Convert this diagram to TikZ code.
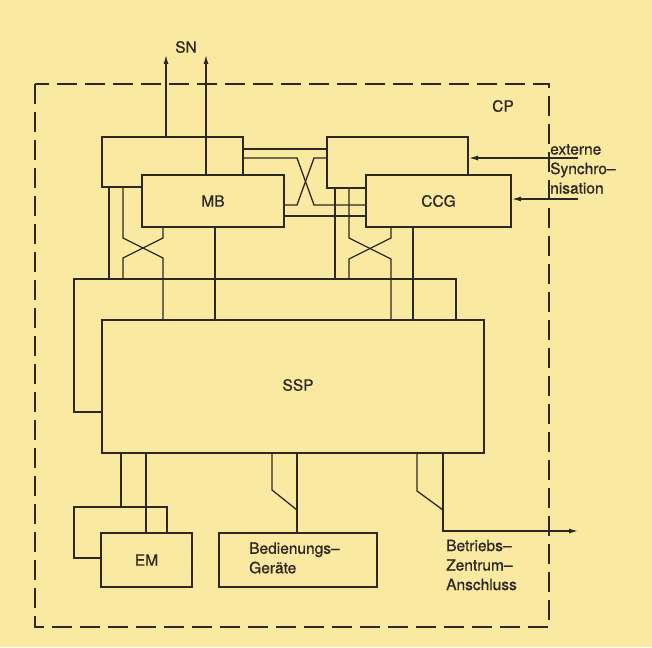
\documentclass[tikz,border=0pt]{standalone}
\usepackage{fontspec}
\setmainfont{TeX Gyre Heros}[UprightFeatures={FakeBold=0.8}]
\usetikzlibrary{arrows.meta}
\definecolor{bg}{RGB}{250,233,160}
\definecolor{ink}{RGB}{45,40,34}
\begin{document}
\begin{tikzpicture}[x=1pt,y=-1pt,
  blk/.style={draw=ink,line width=2pt,fill=bg,rectangle,inner sep=0pt,text=ink,
    font=\fontsize{15.5}{19}\selectfont},
  wire/.style={draw=ink,line width=1.3pt},
  arr/.style={wire,-{Latex[length=9pt,width=5pt]}},
  lbl/.style={text=ink,inner sep=0pt,font=\fontsize{15.5}{19.5}\selectfont,align=left}]
\fill[bg] (0,0) rectangle (652,647);
\useasboundingbox (0,0) rectangle (652,647);
% dashed CP border
\draw[ink,line width=1.4pt,dash pattern=on 20pt off 8pt] (35,84) rectangle (549,627);
\node[lbl] (cp) at (503,106) {CP};
% boxes (back first, then front)
\node[blk,minimum width=141pt,minimum height=50pt] (bl) at (172.5,162) {};
\node[blk,minimum width=142pt,minimum height=52pt] (mb) at (213,201) {MB};
\node[blk,minimum width=141pt,minimum height=51pt] (br) at (397.5,162.5) {};
\node[blk,minimum width=145pt,minimum height=52pt] (ccg) at (438.5,201) {CCG};
\node[blk,minimum width=382pt,minimum height=133pt] (sspb) at (265,345.5) {};
\node[blk,minimum width=382pt,minimum height=133pt] (ssp) at (293,386.5) {};
\node[lbl] at (298,385) {SSP};
\node[blk,minimum width=93pt,minimum height=51pt] (emb) at (120.5,532.5) {};
\node[blk,minimum width=91pt,minimum height=54pt] (em) at (146.5,560) {EM};
\node[blk,minimum width=158pt,minimum height=54pt] (bed) at (298,560) {};
\node[lbl,anchor=west] (bedt) at (249,558) {Bedienungs–\\Geräte};
% SN arrows
\coordinate (sn1) at (166,55);
\coordinate (sn2) at (206,55);
\draw[arr] (bl.north -| sn1) -- (sn1);
\draw[arr] (mb.north -| sn2) -- (sn2);
\node[lbl] (sn) at (186,47) {SN};
% external synchronisation
\coordinate (es1) at (578,158);
\coordinate (es2) at (578,199);
\draw[arr] (es1) -- (br.east |- es1);
\draw[arr] (es2) -- (ccg.east |- es2);
\node[lbl,anchor=west] (ext) at (550,169) {externe\\Synchro–\\nisation};
% links between upper boxes
\draw[wire] (bl.east |- 0,149) -- (br.west |- 0,149);
\draw[wire] (bl.east |- 0,158) -- (297,158) -- (314,205) -- (ccg.west |- 0,205);
\draw[wire] (br.west |- 0,158) -- (314,158) -- (297,205) -- (mb.east |- 0,205);
\draw[wire] (mb.east |- 0,216) -- (ccg.west |- 0,216);
% left verticals
\draw[wire] (bl.south -| 109,0) -- (sspb.north -| 109,0);
\draw[wire] (bl.south -| 123,0) -- (123,238) -- (163,258) -- (ssp.north -| 163,0);
\draw[wire] (mb.south -| 163,0) -- (163,238) -- (123,258) -- (sspb.north -| 123,0);
\draw[wire] (mb.south -| 215,0) -- (ssp.north -| 215,0);
% right verticals
\draw[wire] (br.south -| 335,0) -- (sspb.north -| 335,0);
\draw[wire] (br.south -| 349,0) -- (349,238) -- (391,259) -- (ssp.north -| 391,0);
\draw[wire] (ccg.south -| 391,0) -- (391,238) -- (349,259) -- (sspb.north -| 349,0);
\draw[wire] (ccg.south -| 413,0) -- (ssp.north -| 413,0);
% bottom
\draw[wire] (ssp.south -| 121,0) -- (emb.north -| 121,0);
\draw[wire] (ssp.south -| 146,0) -- (em.north -| 146,0);
\draw[wire] (ssp.south -| 272,0) -- (272,490) -- (297,510);
\draw[wire] (ssp.south -| 297,0) -- (bed.north -| 297,0);
\draw[wire] (ssp.south -| 417,0) -- (417,491) -- (443,510);
\coordinate (bza) at (578,531);
\draw[arr] (ssp.south -| 443,0) -- (443,531) -- (bza);
\node[lbl,anchor=west] (bzat) at (446,565) {Betriebs–\\Zentrum–\\Anschluss};
\end{tikzpicture}
\end{document}
